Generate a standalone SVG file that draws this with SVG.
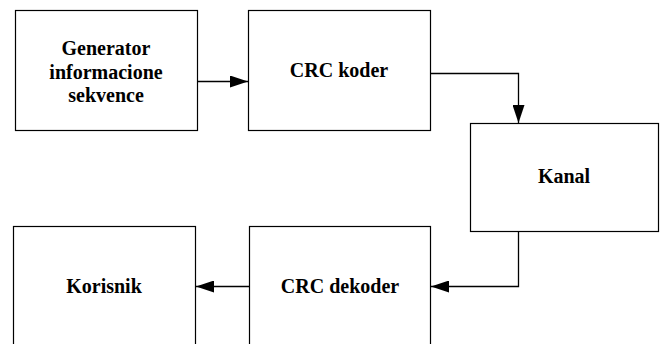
<svg xmlns="http://www.w3.org/2000/svg" width="665" height="344" viewBox="0 0 665 344">
<style>
.box{fill:#fff;stroke:#000;stroke-width:1.2}
.lbl{font-family:'Liberation Serif','Times New Roman','DejaVu Serif',serif;font-weight:bold;font-size:20px;fill:#000;text-anchor:middle}
.con{fill:none;stroke:#000;stroke-width:1.3}
</style>
<defs>
<marker id="ah" markerWidth="18" markerHeight="12" refX="18" refY="6" orient="auto" markerUnits="userSpaceOnUse">
<path d="M0,0 L18,6 L0,12 Z" fill="#000"/>
</marker>
</defs>
<rect width="665" height="344" fill="#fff"/>
<g id="generator">
<rect class="box" x="15.5" y="10.5" width="182" height="120"/>
<text class="lbl" x="106" y="55" font-family="Liberation Serif, serif">Generator</text>
<text class="lbl" x="106" y="79" font-family="Liberation Serif, serif">informacione</text>
<text class="lbl" x="106" y="102" font-family="Liberation Serif, serif">sekvence</text>
</g>
<g id="crc-koder">
<rect class="box" x="248.5" y="10.5" width="182" height="120"/>
<text class="lbl" x="339" y="77">CRC koder</text>
</g>
<g id="kanal">
<rect class="box" x="470.5" y="123.5" width="188" height="108"/>
<text class="lbl" x="564" y="183">Kanal</text>
</g>
<g id="crc-dekoder">
<rect class="box" x="249.5" y="226.5" width="181" height="130"/>
<text class="lbl" x="340" y="293">CRC dekoder</text>
</g>
<g id="korisnik">
<rect class="box" x="13.5" y="226.5" width="182" height="130"/>
<text class="lbl" x="104" y="293">Korisnik</text>
</g>
<g id="connectors">
<path class="con" d="M197.5,81.5 H248" marker-end="url(#ah)"/>
<path class="con" d="M430.5,73.5 H518.5 V123" marker-end="url(#ah)"/>
<path class="con" d="M518.5,231.5 V286.5 H431" marker-end="url(#ah)"/>
<path class="con" d="M249.5,286.5 H196" marker-end="url(#ah)"/>
</g>
</svg>
